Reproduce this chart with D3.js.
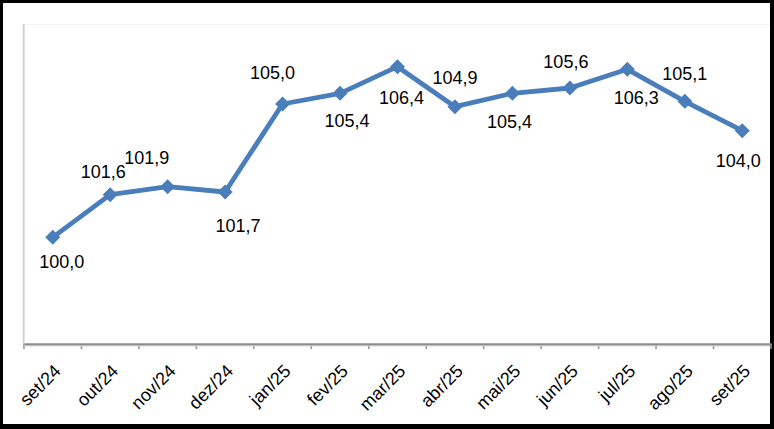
<!DOCTYPE html>
<html>
<head>
<meta charset="utf-8">
<script src="https://cdn.jsdelivr.net/npm/d3@7"></script>
<style>
  html, body { margin: 0; padding: 0; background: #fff; }
  svg { display: block; }
</style>
</head>
<body>
<svg id="chart" width="774" height="429"></svg>
<script>
// ---- data ----
const categories = ["set/24","out/24","nov/24","dez/24","jan/25","fev/25","mar/25","abr/25","mai/25","jun/25","jul/25","ago/25","set/25"];
const values = [100.0, 101.6, 101.9, 101.7, 105.0, 105.4, 106.4, 104.9, 105.4, 105.6, 106.3, 105.1, 104.0];
const valueLabels = ["100,0","101,6","101,9","101,7","105,0","105,4","106,4","104,9","105,4","105,6","106,3","105,1","104,0"];

// ---- layout (label placement offsets relative to each point) ----
const labelOffsets = [[9,24],[-7,-23],[-21,-29],[13,34],[-10,-31],[7,27],[4,31],[0,-29],[-3,28],[-4,-26],[9,28],[0,-28],[-4,30]];

const W = 774, H = 429;
const plot = {left: 24, right: 771, top: 24, bottom: 344};
const lineColor = "#4A7EBB";

const svg = d3.select("#chart");

// outer black frame
svg.append("rect").attr("x",0).attr("y",0).attr("width",W).attr("height",H).attr("fill","#000");
svg.append("rect").attr("x",3).attr("y",3).attr("width",767).attr("height",421).attr("fill","#fff");

const x = d3.scaleBand().domain(categories).range([plot.left, plot.right]).padding(0);
const y = d3.scaleLinear().domain([96,108]).range([plot.bottom, plot.top]);

const g = svg.append("g");

// plot area: faint top border, left shadow
g.append("line").attr("x1",plot.left).attr("x2",770).attr("y1",plot.top+0.5).attr("y2",plot.top+0.5)
  .attr("stroke","#f3f3f3").attr("stroke-width",1);
const shadow = svg.append("defs").append("linearGradient").attr("id","sh").attr("x1","0").attr("x2","1");
shadow.append("stop").attr("offset","0").attr("stop-color","#ffffff");
shadow.append("stop").attr("offset","0.6").attr("stop-color","#c8c8c8");
shadow.append("stop").attr("offset","1").attr("stop-color","#f4f4f4");
g.append("rect").attr("x",plot.left-2).attr("y",plot.top).attr("width",3).attr("height",plot.bottom-plot.top)
  .attr("fill","url(#sh)");

// x axis
const xAxis = d3.axisBottom(x).tickSize(0).tickFormat("");
const ax = g.append("g").attr("transform",`translate(0,${plot.bottom})`).call(xAxis);
ax.select(".domain").attr("stroke","#8c8c8c").attr("stroke-width",2.5);
// tick marks at band boundaries
const bounds = d3.range(categories.length + 1).map(i => plot.left + i * x.step());
g.selectAll("line.tk").data(bounds).join("line").attr("class","tk")
  .attr("x1",d=>d).attr("x2",d=>d).attr("y1",plot.bottom).attr("y2",plot.bottom+5)
  .attr("stroke","#8c8c8c").attr("stroke-width",1.5);
// axis shading below the line
g.append("line").attr("x1",plot.left).attr("x2",770).attr("y1",plot.bottom+2).attr("y2",plot.bottom+2)
  .attr("stroke","#d9d9d9").attr("stroke-width",1);

// rotated category labels
g.selectAll("text.cat").data(categories).join("text").attr("class","cat")
  .attr("transform", d => `translate(${x(d) + x.bandwidth()/2 + 0},${plot.bottom + 19}) rotate(-45)`)
  .attr("text-anchor","end")
  .attr("dy","0.72em")
  .attr("font-family","'Liberation Sans', Arial, sans-serif")
  .attr("font-size",18)
  .attr("fill","#000")
  .text(d => d);

// line
const cx = (d,i) => x(categories[i]) + x.bandwidth()/2;
const line = d3.line().x((d,i) => cx(d,i)).y(d => y(d));
g.append("path").datum(values).attr("d", line)
  .attr("fill","none").attr("stroke",lineColor).attr("stroke-width",4.8).attr("stroke-linejoin","round");

// diamond markers
const s = 7.5;
g.selectAll("path.mk").data(values).join("path").attr("class","mk")
  .attr("d", (d,i) => {
    const px = cx(d,i), py = y(d);
    return `M${px},${py-s}L${px+s},${py}L${px},${py+s}L${px-s},${py}Z`;
  })
  .attr("fill",lineColor);

// data labels
g.selectAll("text.val").data(values).join("text").attr("class","val")
  .attr("x",(d,i) => cx(d,i) + labelOffsets[i][0])
  .attr("y",(d,i) => y(d) + labelOffsets[i][1] + 6.4)
  .attr("text-anchor","middle")
  .attr("font-family","'Liberation Sans', Arial, sans-serif")
  .attr("font-size",18)
  .attr("fill","#000")
  .text((d,i) => valueLabels[i]);
</script>
</body>
</html>
